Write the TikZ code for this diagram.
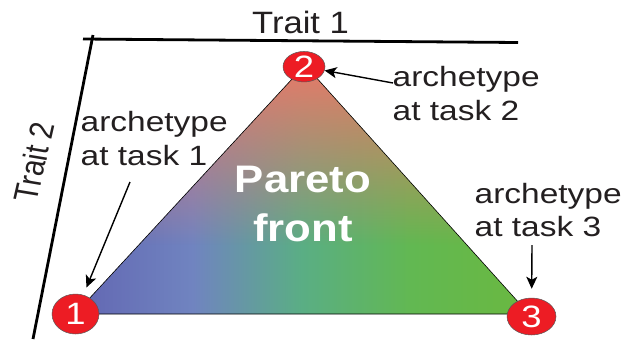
\documentclass[tikz,border=0pt]{standalone}
\usepackage{fontspec}
\setmainfont{Liberation Sans}
\usetikzlibrary{shapes.geometric,arrows.meta,fadings}
\definecolor{ptred}{HTML}{ED1C24}
\definecolor{txt}{HTML}{231F20}
\definecolor{topred}{HTML}{EA7868}
\definecolor{cA}{HTML}{6266B2}
\definecolor{cB}{HTML}{7084C0}
\definecolor{cD}{HTML}{5AAE84}
\definecolor{cF}{HTML}{62B852}
\definecolor{cG}{HTML}{6AB840}
\pgfdeclarehorizontalshading{paretobase}{100bp}{color(0bp)=(cA); color(25bp)=(cA); color(38bp)=(cB); color(50bp)=(cD); color(62bp)=(cF); color(75bp)=(cG); color(100bp)=(cG)}
\tikzfading[name=redfade, top color=transparent!0, bottom color=transparent!100]
\begin{document}
\begin{tikzpicture}[x=1bp,y=-1bp,
  lab/.style={text=txt, font=\fontsize{28}{34}\selectfont, inner sep=0pt, anchor=base west},
  num/.style={ellipse, fill=ptred, draw=black!65, line width=0.5bp, inner sep=0pt, text=white, font=\fontsize{31}{31}\selectfont},
  axisline/.style={line width=2.8bp, black},
  arr/.style={-{Stealth[length=12bp,width=11bp,inset=3bp]}, line width=1.4bp, black},
  triedge/.style={draw=black, line width=0.6bp}]
\useasboundingbox (0,0) rectangle (631,339);
% triangle
\coordinate (v1) at (75,314);
\coordinate (v2) at (305,65);
\coordinate (v3) at (529,314);
\shade[shading=paretobase] (v1)--(v2)--(v3)--cycle;
\begin{scope}
  \clip (v1)--(v2)--(v3)--cycle;
  \fill[topred, path fading=redfade] (75,62) rectangle (529,245);
\end{scope}
\draw[triedge] (v1)--(v2)--(v3)--cycle;
% axes
\coordinate (ax0) at (83,39);
\coordinate (ax1) at (518,42.5);
\coordinate (ay0) at (93,35);
\coordinate (ay1) at (33,339);
\draw[axisline] (ax0)--(ax1);
\draw[axisline] (ay0)--(ay1);
\node[text=txt, font=\fontsize{31}{31}\selectfont, anchor=base west, inner sep=0pt] (tr1) at (252,33.3) {\scalebox{1.12}[1]{Trait 1}};
\node[text=txt, font=\fontsize{29}{29}\selectfont, inner sep=0pt] (tr2) at (34,162) {\scalebox{1.17}[1]{\rotatebox{79}{Trait 2}}};
% archetypes
\node[num, minimum width=47bp, minimum height=40bp] (e1) at (75.5,314) {\scalebox{1.18}[1]{1}};
\node[num, minimum width=42bp, minimum height=23.5bp] (e2) at (304,66.7) {\scalebox{1.18}[1]{2}};
\node[num, minimum width=49bp, minimum height=37bp] (e3) at (531.5,316.5) {\scalebox{1.18}[1]{3}};
% Pareto front label
\node[text=white, font=\bfseries\fontsize{38.5}{49}\selectfont, inner sep=0pt, anchor=base] (pf) at (303,192.7) {\scalebox{1.14}[1]{\begin{tabular}[t]{@{}c@{}}Pareto\\front\end{tabular}}};
% labels
\node[lab] (l1) at (80.5,131.7) {\scalebox{1.2}[1]{\begin{tabular}[t]{@{}l@{}}archetype\\at task 1\end{tabular}}};
\node[lab] (l2) at (392.5,86.7) {\scalebox{1.2}[1]{\begin{tabular}[t]{@{}l@{}}archetype\\at task 2\end{tabular}}};
\node[lab] (l3) at (474.5,203) {\scalebox{1.2}[1]{\begin{tabular}[t]{@{}l@{}}archetype\\at task 3\end{tabular}}};
% arrows
\coordinate (t1) at (130,182);
\coordinate (t2) at (393,83);
\coordinate (t3) at (532,245);
\draw[arr, shorten >=8bp] (t1) -- (e1);
\draw[arr] (t2) -- (e2);
\draw[arr, shorten >=9bp] (t3) -- (e3);
\end{tikzpicture}
\end{document}
